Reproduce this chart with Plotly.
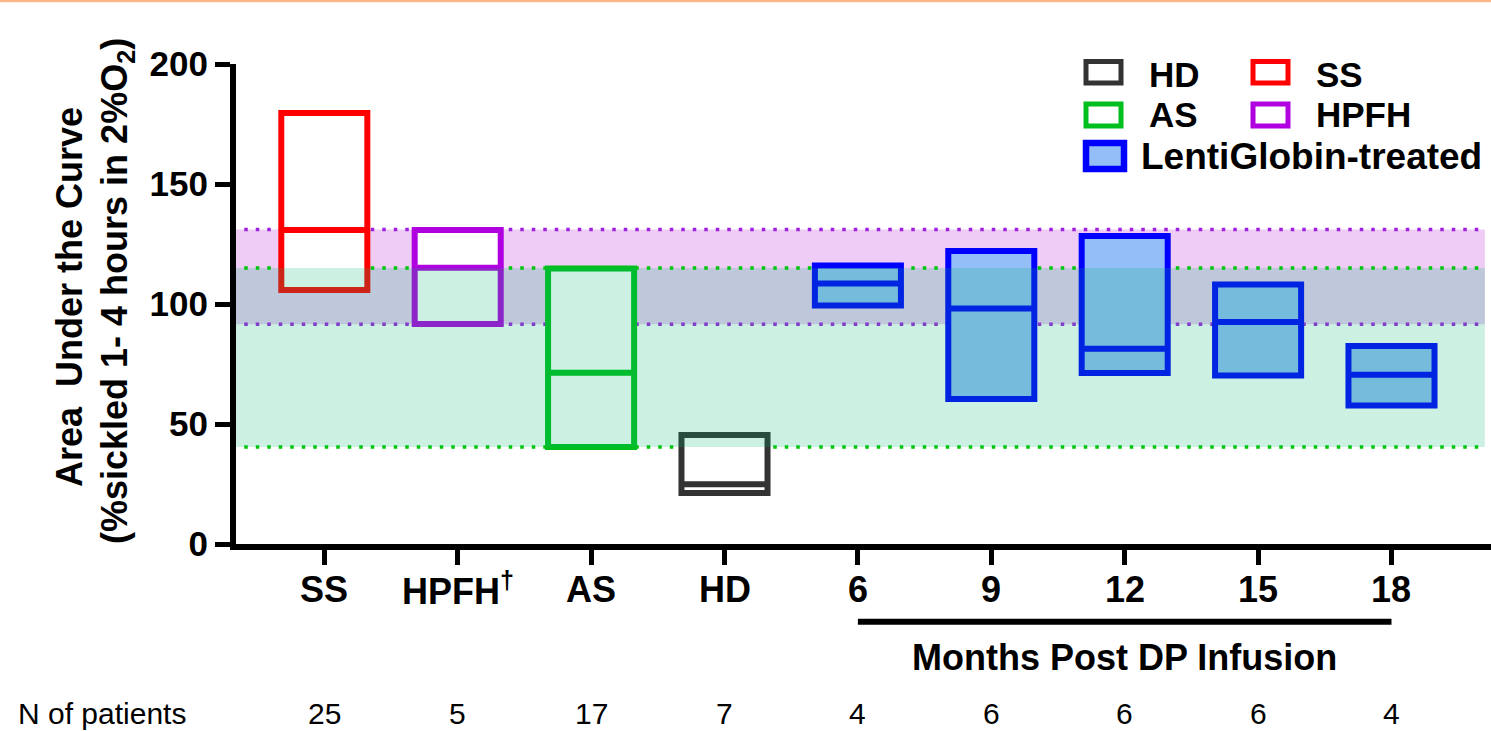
import plotly.graph_objects as go

# ---------------- data ----------------
categories = ["SS", "HPFH<sup>†</sup>", "AS", "HD", "6", "9", "12", "15", "18"]
n_patients = [25, 5, 17, 7, 4, 6, 6, 6, 4]
box_low = [105.8, 91.7, 40.4, 21.2, 99.4, 60.4, 71.3, 70.2, 57.7]
box_median = [130.8, 115.1, 71.4, 24.9, 108.5, 98.1, 81.4, 92.5, 70.5]
box_high = [179.6, 130.8, 114.8, 45.4, 116.0, 122.1, 128.3, 108.1, 82.5]
group_of = ["SS", "HPFH", "AS", "HD", "Lenti", "Lenti", "Lenti", "Lenti", "Lenti"]
hpfh_band = [91.6, 131.0]
as_band = [40.4, 115.0]
y_ticks = [0, 50, 100, 150, 200]

# ---------------- styles ----------------
FONT = "Liberation Sans, Arial, Helvetica, sans-serif"
style = {
    "SS": dict(line="#FF0000", fill="#FFFFFF"),
    "HPFH": dict(line="#B000E0", fill="#FFFFFF"),
    "AS": dict(line="#00BE1E", fill="#FFFFFF"),
    "HD": dict(line="#333333", fill="#FFFFFF"),
    "Lenti": dict(line="#0000FF", fill="#93BEF8"),
}

W, H = 1491, 731
L, R, T, B = 236, 0, 64, 187
PW, PH = W - L - R, H - T - B
x_range = [-0.662, 8.746]


def px(xpix):
    return (xpix - L) / PW


def py(ypix):
    return (H - B - ypix) / PH


x_idx = list(range(len(categories)))

fig = go.Figure()

for g in ["SS", "HPFH", "AS", "HD", "Lenti"]:
    idx = [i for i in x_idx if group_of[i] == g]
    fig.add_trace(go.Box(
        x=idx,
        q1=[box_low[i] for i in idx],
        median=[box_median[i] for i in idx],
        q3=[box_high[i] for i in idx],
        lowerfence=[box_low[i] for i in idx],
        upperfence=[box_high[i] for i in idx],
        width=0.645,
        whiskerwidth=0,
        boxpoints=False,
        line=dict(color=style[g]["line"], width=6),
        fillcolor=style[g]["fill"],
        showlegend=False,
        hoverinfo="skip",
    ))

shapes = []
# purple reference band (below traces)
shapes.append(dict(type="rect", xref="x", yref="y", x0=x_range[0], x1=8.70,
                   y0=hpfh_band[0], y1=hpfh_band[1], fillcolor="#EFCCF5",
                   line=dict(width=0), layer="below"))
# dotted lines
for yv, col in [(hpfh_band[0], "#A020E0"), (hpfh_band[1], "#A020E0"),
                (as_band[0], "#00C800"), (as_band[1], "#00C800")]:
    shapes.append(dict(type="line", xref="x", yref="y", x0=-0.6, x1=8.68,
                       y0=yv, y1=yv, line=dict(color=col, width=3.5, dash="3.5px,8px"),
                       layer="below"))
# green reference band (above traces, translucent)
shapes.append(dict(type="rect", xref="x", yref="y", x0=x_range[0], x1=8.70,
                   y0=as_band[0], y1=as_band[1], fillcolor="rgba(0,180,110,0.2)",
                   line=dict(width=0), layer="above"))
# months bar
shapes.append(dict(type="line", xref="x", yref="paper", x0=4, x1=8,
                   y0=py(621.7), y1=py(621.7), line=dict(color="black", width=6)))
# top orange line
shapes.append(dict(type="line", xref="paper", yref="paper", x0=px(0), x1=px(W),
                   y0=py(1), y1=py(1), line=dict(color="#FFB888", width=2.5)))

# legend symbols
legend_items = [
    ("HD", 1086, 61.5, 1121, 83, 5),
    ("SS", 1253, 61.5, 1288, 83, 5),
    ("AS", 1086, 104, 1121, 126, 5),
    ("HPFH", 1253, 104, 1288, 126, 5),
    ("Lenti", 1086, 143, 1124, 169, 6.5),
]
for g, x0, y0, x1, y1, lw in legend_items:
    shapes.append(dict(type="rect", xref="paper", yref="paper",
                       x0=px(x0), x1=px(x1), y0=py(y0), y1=py(y1),
                       fillcolor=style[g]["fill"],
                       line=dict(color=style[g]["line"], width=lw)))

annotations = []
legend_texts = [
    ("HD", 1147, 74, 35), ("SS", 1314, 74, 35),
    ("AS", 1147, 115, 35), ("HPFH", 1314, 115, 35),
    ("LentiGlobin-treated", 1139, 156, 37),
]
for txt, x0, yc, fs in legend_texts:
    annotations.append(dict(text="<b>%s</b>" % txt, xref="paper", yref="paper",
                            x=px(x0), y=py(yc), xanchor="left", yanchor="middle",
                            showarrow=False, font=dict(family=FONT, size=fs, color="black")))

# x tick labels (category names)
for i, c in zip(x_idx, categories):
    annotations.append(dict(text="<b>%s</b>" % c, xref="x", yref="paper",
                            x=i, y=py(589), xanchor="center", yanchor="middle",
                            showarrow=False,
                            font=dict(family=FONT, size=36, color="black")))

# y-axis title (two lines)
annotations.append(dict(text="<b>Area  Under the Curve</b>", xref="paper", yref="paper",
                        x=px(69), y=py(297), xanchor="center", yanchor="middle",
                        textangle=-90, showarrow=False,
                        font=dict(family=FONT, size=36, color="black")))
annotations.append(dict(text="<b>(%sickled 1- 4 hours in 2%O<sub>2</sub>)</b>", xref="paper",
                        yref="paper", x=px(117), y=py(291), xanchor="center",
                        yanchor="middle", textangle=-90, showarrow=False,
                        font=dict(family=FONT, size=36, color="black")))

# months label
annotations.append(dict(text="<b>Months Post DP Infusion</b>", xref="x", yref="paper",
                        x=6, y=py(657), xanchor="center", yanchor="middle",
                        showarrow=False, font=dict(family=FONT, size=36, color="black")))

# N of patients row
annotations.append(dict(text="N of patients", xref="paper", yref="paper",
                        x=px(17), y=py(730.5), xanchor="left", yanchor="bottom",
                        showarrow=False, borderpad=0,
                        font=dict(family=FONT, size=30, color="black")))
for i, n in zip(x_idx, n_patients):
    annotations.append(dict(text=str(n), xref="x", yref="paper", x=i, y=py(730.5),
                            xanchor="center", yanchor="bottom", showarrow=False,
                            borderpad=0,
                            font=dict(family=FONT, size=30, color="black")))

fig.update_layout(
    width=W, height=H,
    margin=dict(l=L, r=R, t=T, b=B, pad=0),
    paper_bgcolor="white", plot_bgcolor="white",
    boxmode="overlay",
    showlegend=False,
    shapes=shapes,
    annotations=annotations,
    xaxis=dict(range=x_range, tickmode="array", tickvals=x_idx, ticktext=categories,
               showticklabels=False,
               showgrid=False, zeroline=False, showline=True, linecolor="black",
               linewidth=6, ticks="outside", ticklen=15, tickwidth=5, tickcolor="black"),
    yaxis=dict(range=[0, 200], tickmode="array", tickvals=y_ticks,
               showgrid=False, zeroline=False, showline=True, linecolor="black",
               linewidth=6, ticks="outside", ticklen=15, tickwidth=5, tickcolor="black",
               tickfont=dict(family=FONT, size=35, color="black", weight="bold")),
)

fig.write_html("out.html")
